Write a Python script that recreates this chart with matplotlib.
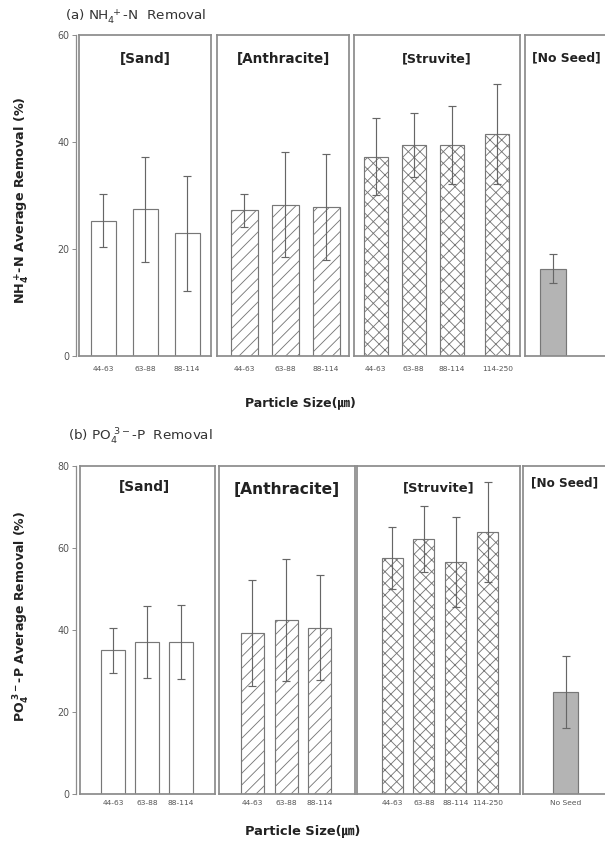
import matplotlib
matplotlib.use('Agg')
import matplotlib.pyplot as plt

# values (mean removal %, error bar half-length)
labels_sand = ['44-63', '63-88', '88-114']
labels_anth = ['44-63', '63-88', '88-114']
labels_struv = ['44-63', '63-88', '88-114', '114-250']

nh4_sand = [25.3, 27.4, 22.9]
nh4_sand_err = [5.0, 9.8, 10.8]
nh4_anth = [27.2, 28.3, 27.8]
nh4_anth_err = [3.0, 9.8, 9.9]
nh4_struv = [37.2, 39.4, 39.4, 41.5]
nh4_struv_err = [7.2, 6.0, 7.3, 9.4]
nh4_noseed = [16.3]
nh4_noseed_err = [2.7]

po4_sand = [35.1, 37.0, 37.0]
po4_sand_err = [5.5, 8.8, 9.0]
po4_anth = [39.3, 42.4, 40.5]
po4_anth_err = [13.0, 14.8, 12.8]
po4_struv = [57.6, 62.2, 56.6, 63.9]
po4_struv_err = [7.5, 8.0, 11.0, 12.2]
po4_noseed = [24.9]
po4_noseed_err = [8.8]

DPI = 70
PT = 72 / DPI          # points per pixel
W, H = 605, 846

plt.rcParams['font.family'] = ['DejaVu Sans', 'Noto Sans CJK KR']
plt.rcParams['hatch.color'] = '#777777'
plt.rcParams['hatch.linewidth'] = 0.9

fig = plt.figure(figsize=(W / DPI, H / DPI), dpi=DPI)

FRAME = '#8c8c8c'
EDGE = '#777777'
ERRC = '#666666'
TXT = '#222222'


def px_axes(x0, x1, ytop, ybot):
    return fig.add_axes([x0 / W, 1 - ybot / H, (x1 - x0) / W, (ybot - ytop) / H])


def draw_panel(ytop, ybot, ymax, groups, tick_pad):
    # shared y axis
    axy = px_axes(76, 600, ytop, ybot)
    axy.set_facecolor('none')
    axy.set_ylim(0, ymax)
    axy.set_yticks(range(0, ymax + 1, 20))
    axy.set_xticks([])
    for s in ['top', 'right', 'bottom']:
        axy.spines[s].set_visible(False)
    axy.spines['left'].set_color(FRAME)
    axy.spines['left'].set_linewidth(1.3)
    axy.tick_params(axis='y', direction='out', length=4 * PT, width=1, color=FRAME,
                    labelsize=9.5 * PT, labelcolor='#555555', pad=3 * PT)

    for g in groups:
        ax = px_axes(g['box'][0], g['box'][1], ytop, ybot)
        ax.set_facecolor('none')
        ax.bar(g['pos'], g['vals'], width=g['width'], color=g['fill'], edgecolor=EDGE,
               linewidth=1.2, hatch=g['hatch'], zorder=2)
        ax.errorbar(g['pos'], g['vals'], yerr=g['err'], fmt='none', ecolor=ERRC,
                    elinewidth=1.2, capsize=4.5 * PT, capthick=1.2, zorder=3)
        ax.set_xlim(*g['xlim'])
        ax.set_ylim(0, ymax)
        ax.set_yticks([])
        ax.set_xticks(g['pos'])
        ax.set_xticklabels(g['labels'])
        ax.tick_params(axis='x', length=0, labelsize=7.5 * PT, labelcolor='#555555',
                       pad=tick_pad * PT)
        for s in ax.spines.values():
            s.set_color(FRAME)
            s.set_linewidth(1.8)
        ax.text(g['tx'], g['ty'], g['title'], transform=ax.transAxes, ha='center',
                va='center', fontsize=g['tsize'] * PT, fontweight='bold', color=TXT)


top_groups = [
    dict(box=(79, 211), pos=[0, 1, 2], vals=nh4_sand, err=nh4_sand_err, labels=labels_sand,
         xlim=(-0.58, 2.57), width=0.6, fill='white', hatch=None,
         title='[Sand]', tx=0.5, ty=0.925, tsize=13.6),
    dict(box=(217, 349), pos=[0, 1, 2], vals=nh4_anth, err=nh4_anth_err, labels=labels_anth,
         xlim=(-0.67, 2.56), width=0.66, fill='white', hatch='//',
         title='[Anthracite]', tx=0.5, ty=0.925, tsize=13.6),
    dict(box=(354, 520), pos=[0, 1, 2, 3.2], vals=nh4_struv, err=nh4_struv_err,
         labels=labels_struv, xlim=(-0.57, 3.8), width=0.63, fill='white', hatch='xx',
         title='[Struvite]', tx=0.5, ty=0.925, tsize=12.8),
    dict(box=(525, 615), pos=[0], vals=nh4_noseed, err=nh4_noseed_err, labels=[''],
         xlim=(-0.7, 1.55), width=0.63, fill='#b4b4b4', hatch=None,
         title='[No Seed]', tx=0.46, ty=0.93, tsize=12.4),
]

bottom_groups = [
    dict(box=(80, 215), pos=[0, 1, 2], vals=po4_sand, err=po4_sand_err, labels=labels_sand,
         xlim=(-0.98, 3.02), width=0.71, fill='white', hatch=None,
         title='[Sand]', tx=0.48, ty=0.936, tsize=13.8),
    dict(box=(219, 355), pos=[0, 1, 2], vals=po4_anth, err=po4_anth_err, labels=labels_anth,
         xlim=(-0.99, 3.04), width=0.68, fill='white', hatch='//',
         title='[Anthracite]', tx=0.5, ty=0.927, tsize=15.5),
    dict(box=(357, 520), pos=[0, 1, 2, 3], vals=po4_struv, err=po4_struv_err,
         labels=labels_struv, xlim=(-1.1, 4.02), width=0.66, fill='white', hatch='xx',
         title='[Struvite]', tx=0.5, ty=0.933, tsize=13.2),
    dict(box=(523, 615), pos=[0], vals=po4_noseed, err=po4_noseed_err, labels=['No Seed'],
         xlim=(-1.25, 1.45), width=0.74, fill='#b4b4b4', hatch=None,
         title='[No Seed]', tx=0.45, ty=0.948, tsize=12),
]

draw_panel(35, 356, 60, top_groups, 10)
draw_panel(466, 794, 80, bottom_groups, 6)

fig.text(65 / W, 1 - 17 / H, '(a) NH$_4^{\\ +}$-N  Removal', fontsize=13.5 * PT, color='#333333',
         va='center', ha='left')
fig.text(68 / W, 1 - 437 / H, '(b) PO$_4^{\\ 3-}$-P  Removal', fontsize=13.5 * PT, color='#333333',
         va='center', ha='left')
fig.text(300 / W, 1 - 403 / H, 'Particle Size(㎛)', fontsize=12.5 * PT, fontweight='bold',
         color=TXT, ha='center', va='center')
fig.text(303 / W, 1 - 832 / H, 'Particle Size(㎛)', fontsize=13 * PT, fontweight='bold',
         color=TXT, ha='center', va='center')
fig.text(22 / W, 1 - 200 / H, 'NH$_\\mathbf{4}^{\\ \\mathbf{+}}$-N Average Removal (%)', rotation=90,
         fontsize=12.8 * PT, fontweight='bold', color=TXT, ha='center', va='center')
fig.text(22 / W, 1 - 616 / H, 'PO$_\\mathbf{4}^{\\ \\mathbf{3-}}$-P Average Removal (%)', rotation=90,
         fontsize=12.5 * PT, fontweight='bold', color=TXT, ha='center', va='center')

fig.savefig('out.png', dpi=DPI)
